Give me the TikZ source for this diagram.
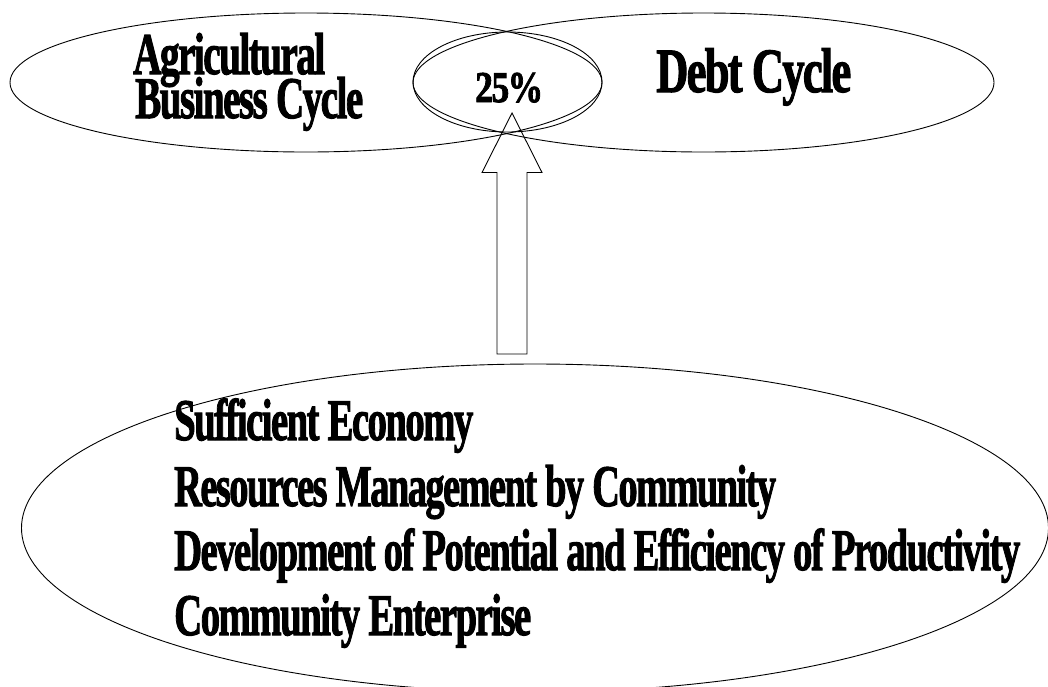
\documentclass[tikz,border=0pt]{standalone}
\usepackage{fontspec}
\setmainfont{Liberation Serif}
\newfontfamily\heavyserif[BoldFont={* Bold}, BoldFeatures={FakeBold=2, LetterSpace=-4}]{Liberation Serif}
\usetikzlibrary{shapes.geometric}
\newcommand{\squeezeto}[2]{\resizebox{#1}{\height}{#2}}
\begin{document}
\begin{tikzpicture}[x=1pt,y=-1pt,
  ell/.style={draw, ellipse, line width=0.9pt, inner sep=0pt},
  lbl/.style={inner sep=0pt, anchor=base west},
  bigtxt/.style={font=\fontsize{59pt}{59pt}\heavyserif\bfseries},
  debttxt/.style={font=\fontsize{63pt}{63pt}\heavyserif\bfseries},
  pcttxt/.style={font=\fontsize{44pt}{44pt}\heavyserif\bfseries},
  blockarrow/.style={draw, line width=0.9pt, line join=miter}
  ]
\useasboundingbox (0,0) rectangle (1048,686);

% ellipses
\node[ell, minimum width=592pt, minimum height=139pt] (agri) at (306,82.5) {};
\node[ell, minimum width=581pt, minimum height=139pt] (debt) at (703.5,82.5) {};
\node[ell, minimum width=189pt, minimum height=100pt] (overlap) at (507.5,82) {};
\node[ell, minimum width=1027pt, minimum height=328pt] (base) at (535,528) {};

% labels
\node[lbl, bigtxt] (agri1) at (133,74) {\squeezeto{192pt}{Agricultural}};
\node[lbl, bigtxt] (agri2) at (135,118) {\squeezeto{228pt}{Business Cycle}};
\node[lbl, debttxt] (debtlbl) at (656,92) {\squeezeto{195pt}{Debt Cycle}};
\node[lbl, pcttxt] (pct) at (475,102) {\squeezeto{68pt}{25\%}};

\node[lbl, bigtxt] (l1) at (174,440) {\squeezeto{299pt}{Sufficient Economy}};
\node[lbl, bigtxt] (l2) at (174,506) {\squeezeto{602pt}{Resources Management by Community}};
\node[lbl, bigtxt] (l3) at (174,570) {\squeezeto{846pt}{Development of Potential and Efficiency of Productivity}};
\node[lbl, bigtxt] (l4) at (174,635) {\squeezeto{357pt}{Community Enterprise}};

% block arrow from base ellipse up to the overlap
\coordinate (arrowfoot) at (512,354);
\coordinate (arrowtip) at (512,113);
\draw[blockarrow] (arrowfoot) -- ++(-15,0) -- ++(0,-181.5) -- ++(-15,0)
  -- (arrowtip) -- ++(30,59.5) -- ++(-15,0) -- ++(0,181.5) -- cycle;
\end{tikzpicture}
\end{document}
